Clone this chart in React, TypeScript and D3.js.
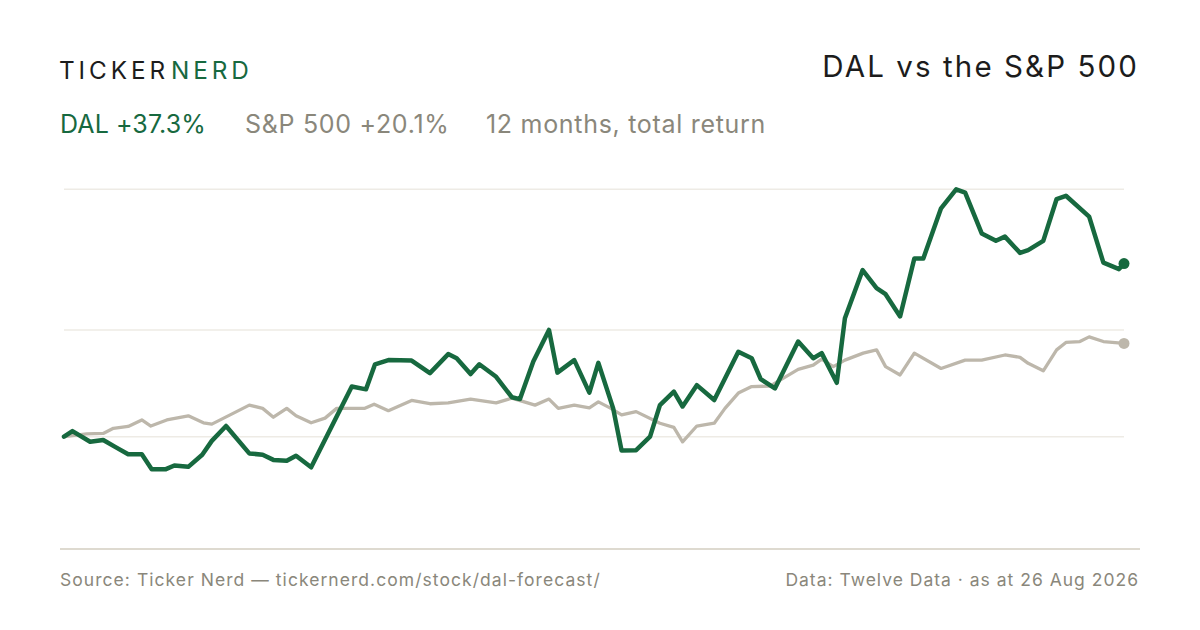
import { FC, useEffect, useRef } from 'react';
import * as d3 from 'd3';

// days since 26 Aug 2025 and cumulative total return (%)
const dalDays = [
  0, 2.9, 9.0, 13.5, 17.9, 22.1, 26.8, 30.2, 35.1, 38.0, 42.8, 47.6, 50.9, 55.8, 63.8, 68.4, 72.1, 76.7, 79.9,
  85.1, 99.1, 104.0, 107.1, 111.7, 119.7, 126.0, 132.3, 135.2, 140.0, 143.0, 148.8, 154.2, 157.0, 161.6, 167.0,
  169.9, 175.7, 180.9, 184.0, 189.1, 192.0, 197.0, 201.8, 205.2, 210.0, 213.0, 217.9, 223.9, 232.2, 236.8, 239.9,
  244.8, 252.8, 258.0, 260.9, 266.1, 268.9, 275.0, 279.8, 282.9, 287.9, 292.8, 295.9, 302.0, 307.2, 310.3, 316.0,
  320.9, 324.0, 329.2, 332.0, 337.2, 341.8, 345.0, 353.0, 357.9, 363.3, 365,
];
const dalReturn = [
  0, 1.2, -1.1, -0.7, -2.3, -3.8, -3.8, -7.0, -7.0, -6.2, -6.5, -3.9, -0.9, 2.3, -3.6, -3.9, -5.0, -5.2, -4.1,
  -6.6, 10.8, 10.2, 15.6, 16.5, 16.4, 13.7, 17.8, 16.9, 13.5, 15.6, 12.9, 8.5, 8.1, 16.2, 23.0,
  13.8, 16.5, 9.5, 15.9, 6.1, -3.0, -2.9, 0.0, 6.8, 9.7, 6.5, 11.1, 7.9, 18.3, 16.9, 12.4,
  10.4, 20.5, 16.9, 18.0, 11.6, 25.5, 35.9, 32.0, 30.7, 25.9, 38.4, 38.4, 49.2, 53.3, 52.6, 43.8,
  42.2, 43.1, 39.6, 40.2, 42.2, 51.2, 51.9, 47.4, 37.5, 36.1, 37.3,
];

const spxDays = [
  0, 7.8, 13.5, 17.0, 22.1, 26.8, 29.9, 35.4, 42.8, 48.0, 50.9, 57.2, 63.8, 68.4, 72.1, 76.7, 79.9, 85.1, 89.9,
  93.9, 103.6, 106.8, 111.7, 119.7, 126.0, 132.3, 140.0, 148.8, 154.2, 162.2, 167.0, 170.2, 175.7, 180.9, 184.0,
  188.0, 192.0, 197.0, 205.2, 210.0, 213.0, 217.9, 223.9, 227.6, 232.2, 236.8, 243.1, 252.8, 258.0, 260.9, 264.9,
  268.9, 275.2, 279.8, 282.9, 287.9, 292.8, 302.0, 310.3, 316.0, 324.0, 329.2, 332.0, 337.2, 341.8, 345.0, 349.8,
  353.0, 357.9, 365,
];
const spxReturn = [
  0, 0.6, 0.7, 1.8, 2.2, 3.6, 2.3, 3.6, 4.5, 3.0, 2.7, 4.7, 6.8, 6.1, 4.2, 6.1, 4.5, 3.0, 4.0,
  6.1, 6.1, 7.0, 5.6, 7.8, 7.1, 7.3, 8.1, 7.3, 8.3, 6.8, 8.1, 6.1, 6.8, 6.2, 7.5,
  6.2, 4.7, 5.4, 2.9, 2.0, -1.1, 2.3, 2.9, 6.1, 9.4, 10.8, 10.9, 14.5, 15.4, 16.7, 15.1,
  16.5, 18.0, 18.7, 15.1, 13.3, 18.0, 14.7, 16.5, 16.5, 17.6, 17.1, 15.8, 14.2, 18.7, 20.3, 20.5,
  21.5, 20.5, 20.1,
];

const gridValues = [0, 23, 53.3];
const yDomain = [-24.2, 53.3];

const legendItems = ['DAL +37.3%', 'S&P 500 +20.1%', '12 months, total return'];

const GREEN = '#17693f';
const SPX_LINE = '#bdb7ab';
const MUTED = '#8a877b';
const FONT = 'Inter, "Noto Sans", sans-serif';

const App: FC = () => {
  const ref = useRef<SVGSVGElement>(null);

  useEffect(() => {
    document.body.style.margin = '0';
    const svg = d3.select(ref.current);
    svg.selectAll('*').remove();

    svg.append('rect').attr('width', 1200).attr('height', 630).attr('fill', '#ffffff');

    // header
    const brand = svg
      .append('text')
      .attr('x', 59)
      .attr('y', 78.5)
      .attr('font-family', FONT)
      .attr('font-size', 24.3)
      .attr('letter-spacing', 3.9);
    brand.append('tspan').attr('fill', '#1c1c1c').text('TICKER');
    brand.append('tspan').attr('fill', GREEN).attr('dx', 2).text('NERD');

    svg
      .append('text')
      .attr('x', 1139)
      .attr('y', 76.5)
      .attr('text-anchor', 'end')
      .attr('font-family', FONT)
      .attr('font-size', 29.5)
      .attr('letter-spacing', 2.1)
      .attr('fill', '#1c1c1c')
      .text('DAL vs the S&P 500');

    const legendX = [60, 245, 486];
    const legendColor = [GREEN, MUTED, MUTED];
    svg
      .selectAll('text.legend')
      .data(legendItems)
      .join('text')
      .attr('class', 'legend')
      .attr('x', (_, i) => legendX[i])
      .attr('y', 132.5)
      .attr('font-family', FONT)
      .attr('font-size', 25)
      .attr('letter-spacing', (_, i) => (i === 0 ? 0.1 : 0.7))
      .attr('fill', (_, i) => legendColor[i])
      .text((d) => d);

    //Scales
    const xScale = d3.scaleLinear().domain([0, 365]).range([64, 1124]);
    const yScale = d3.scaleLinear().domain(yDomain).range([549, 189.3]);

    //Grid lines
    svg
      .append('g')
      .selectAll('line')
      .data(gridValues)
      .join('line')
      .attr('x1', xScale(0))
      .attr('x2', xScale(365))
      .attr('y1', (d) => yScale(d))
      .attr('y2', (d) => yScale(d))
      .attr('stroke', '#eeebe5')
      .attr('stroke-width', 1.5);

    //Baseline
    svg
      .append('line')
      .attr('x1', 60)
      .attr('x2', 1140)
      .attr('y1', yScale(yDomain[0]))
      .attr('y2', yScale(yDomain[0]))
      .attr('stroke', '#dedad0')
      .attr('stroke-width', 2);

    const line = d3
      .line<number>()
      .x((d) => xScale(d[0]))
      .y((d) => yScale(d[1]));

    const series = [
      { days: spxDays, values: spxReturn, color: SPX_LINE, width: 3.3 },
      { days: dalDays, values: dalReturn, color: GREEN, width: 4.5 },
    ];

    series.forEach((s) => {
      const pts = s.days.map((d, i) => [d, s.values[i]]);
      svg
        .append('path')
        .datum(pts)
        .attr('fill', 'none')
        .attr('stroke', s.color)
        .attr('stroke-width', s.width)
        .attr('stroke-linejoin', 'round')
        .attr('stroke-linecap', 'round')
        .attr('d', line as any);
      const last = pts[pts.length - 1];
      svg
        .append('circle')
        .attr('cx', xScale(last[0]))
        .attr('cy', yScale(last[1]))
        .attr('r', 5.5)
        .attr('fill', s.color);
    });

    // footer
    svg
      .append('text')
      .attr('x', 60)
      .attr('y', 586)
      .attr('font-family', FONT)
      .attr('font-size', 17.5)
      .attr('letter-spacing', 1.05)
      .attr('fill', MUTED)
      .text('Source: Ticker Nerd \u2014 tickernerd.com/stock/dal-forecast/');

    svg
      .append('text')
      .attr('x', 1139)
      .attr('y', 586)
      .attr('text-anchor', 'end')
      .attr('font-family', FONT)
      .attr('font-size', 17.5)
      .attr('letter-spacing', 1)
      .attr('fill', MUTED)
      .text('Data: Twelve Data \u00b7 as at 26 Aug 2026');
  }, []);

  return <svg ref={ref} width={1200} height={630} style={{ display: 'block' }} />;
};

export default App;
